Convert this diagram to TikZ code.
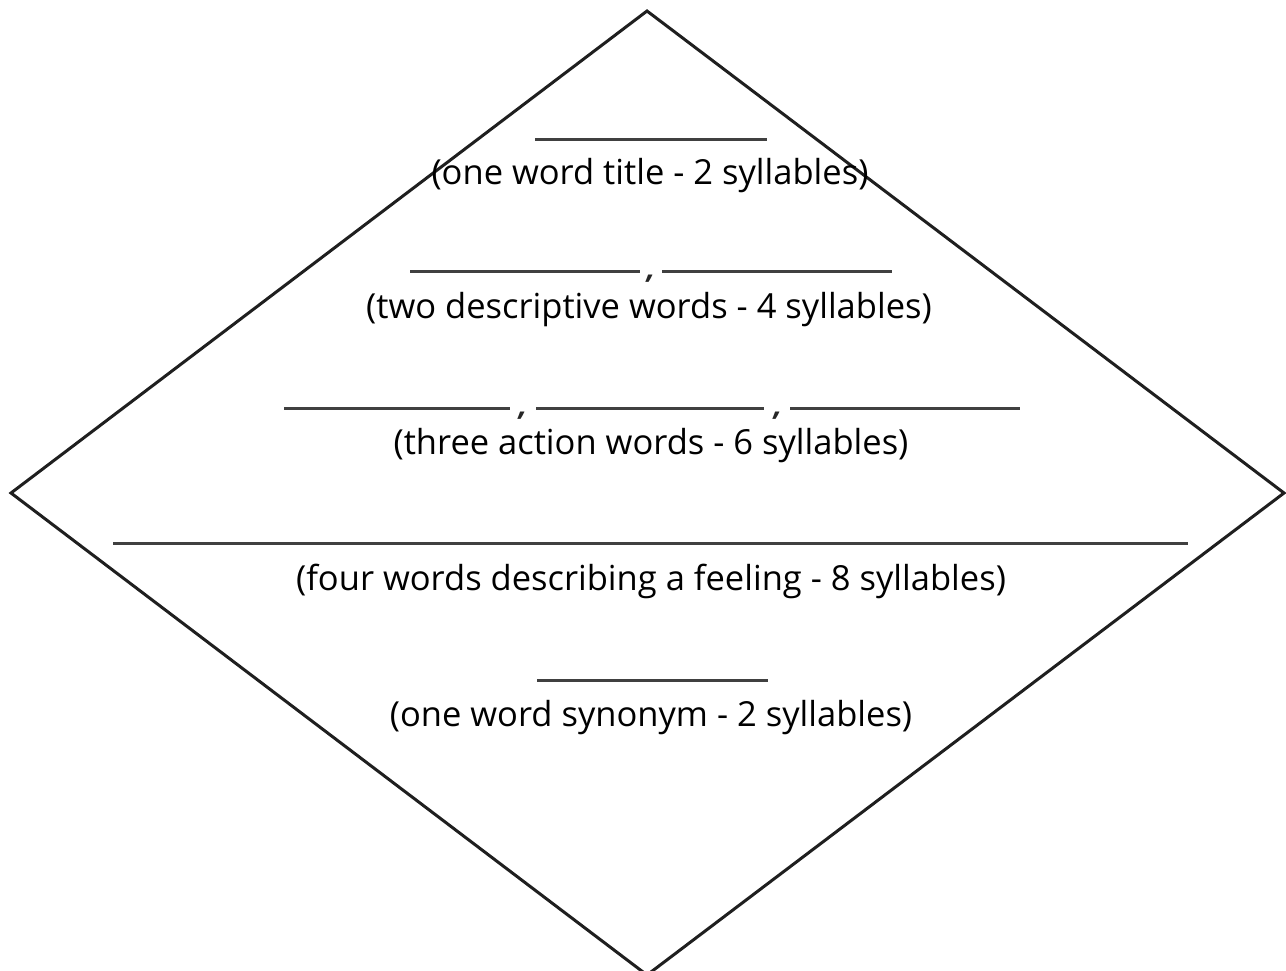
\documentclass[tikz,border=0pt]{standalone}
\usepackage{fontspec}
\setmainfont{Open Sans}
\usetikzlibrary{positioning}
\tikzset{hint/.style = {anchor=base, inner sep=0, font=\fontsize{34.5}{38}\selectfont, text=black}}
\tikzset{blank/.style = {line width=3pt, black!75}}
\tikzset{sep/.style = {anchor=base, inner sep=0, font=\fontsize{30}{34}\bfseries\itshape\selectfont, text=black!85}}
\tikzset{rim/.style = {line width=3pt, black!88, line join=miter}}

\begin{document}
\begin{tikzpicture}[x=1pt, y=-1pt]
    \useasboundingbox (0, 0) rectangle (1286, 970);

    % diamond
    \coordinate (top) at (647, 11);
    \coordinate (left) at (11, 493);
    \coordinate (bottom) at (647, 975);
    \coordinate (right) at (1284, 493);
    \draw [rim] (top) -- (left) -- (bottom) -- (right) -- cycle;

    % line 1
    \coordinate (t1) at (535, 139);
    \coordinate (t2) at (767, 139);
    \draw [blank] (t1) -- (t2);
    \node [hint] (title) at (650, 184) {(one word title - 2 syllables)};

    % line 2
    \coordinate (d1) at (410, 271);
    \coordinate (d2) at (640, 271);
    \coordinate (d3) at (662, 271);
    \coordinate (d4) at (892, 271);
    \draw [blank] (d1) -- (d2);
    \draw [blank] (d3) -- (d4);
    \node [sep] (dc) at (651, 278) {,};
    \node [hint] (descr) at (649, 318) {(two descriptive words - 4 syllables)};

    % line 3
    \coordinate (a1) at (284, 408);
    \coordinate (a2) at (510, 408);
    \coordinate (a3) at (536, 408);
    \coordinate (a4) at (764, 408);
    \coordinate (a5) at (790, 408);
    \coordinate (a6) at (1020, 408);
    \draw [blank] (a1) -- (a2);
    \draw [blank] (a3) -- (a4);
    \draw [blank] (a5) -- (a6);
    \node [sep] (ac1) at (523, 415) {,};
    \node [sep] (ac2) at (778, 415) {,};
    \node [hint] (action) at (651, 454) {(three action words - 6 syllables)};

    % line 4
    \coordinate (f1) at (113, 543);
    \coordinate (f2) at (1188, 543);
    \draw [blank] (f1) -- (f2);
    \node [hint] (feeling) at (651, 590) {(four words describing a feeling - 8 syllables)};

    % line 5
    \coordinate (s1) at (537, 680);
    \coordinate (s2) at (768, 680);
    \draw [blank] (s1) -- (s2);
    \node [hint] (synonym) at (651, 726) {(one word synonym - 2 syllables)};
\end{tikzpicture}
\end{document}
